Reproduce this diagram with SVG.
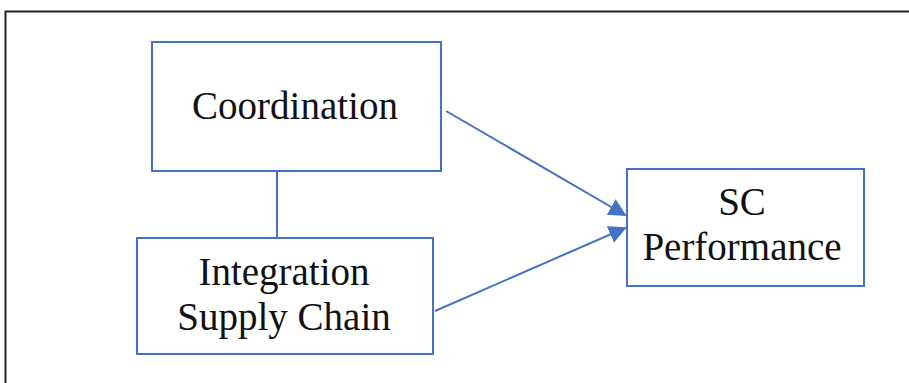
<svg xmlns="http://www.w3.org/2000/svg" width="909" height="383" viewBox="0 0 909 383">
<style>
.box{fill:#fff;stroke:#4472c4;stroke-width:2}
.lbl{font-family:"Liberation Serif","Times New Roman",serif;font-size:39px;fill:#111;text-anchor:middle}
.conn{stroke:#4472c4;stroke-width:2;fill:none}
</style>
<defs>
<marker id="arr" markerWidth="9" markerHeight="9" refX="8" refY="4.5" orient="auto" markerUnits="strokeWidth">
<path d="M0,0 L9,4.5 L0,9 Z" fill="#4472c4"/>
</marker>
</defs>
<rect width="909" height="383" fill="#fff"/>
<path d="M5.5,383 V11.5 H909" fill="none" stroke="#222" stroke-width="2"/>
<g id="connectors">
<line class="conn" x1="277" y1="172" x2="277" y2="238"/>
<line class="conn" x1="446" y1="111" x2="625" y2="215" marker-end="url(#arr)"/>
<line class="conn" x1="435" y1="311" x2="625" y2="228" marker-end="url(#arr)"/>
</g>
<g id="coordination">
<rect class="box" x="152" y="42" width="289" height="129"/>
<text class="lbl" x="295" y="119">Coordination</text>
</g>
<g id="integration">
<rect class="box" x="137" y="238" width="296" height="116"/>
<text class="lbl" x="284" y="285">Integration</text>
<text class="lbl" x="284" y="330">Supply Chain</text>
</g>
<g id="performance">
<rect class="box" x="627" y="169" width="237" height="117"/>
<text class="lbl" x="742" y="215">SC</text>
<text class="lbl" x="742" y="260">Performance</text>
</g>
</svg>
